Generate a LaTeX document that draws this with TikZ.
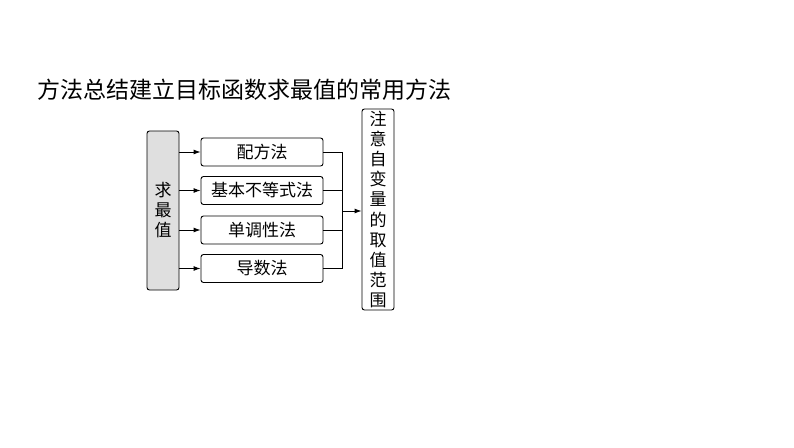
\documentclass[tikz,border=0pt]{standalone}
\usepackage{fontspec}
\newfontfamily\cjk{Noto Sans CJK SC}
\usetikzlibrary{arrows.meta}
\begin{document}
\begin{tikzpicture}[x=1pt,y=-1pt,
  box/.style={draw,rounded corners=2.5pt,line width=0.9pt,inner sep=0pt,font=\cjk\fontsize{17}{19}\selectfont},
  arr/.style={-{Latex[length=7pt,width=5pt]},line width=0.9pt},
  ln/.style={line width=0.9pt}]
\useasboundingbox (0,0) rectangle (794,447);
\node[anchor=west,font=\cjk\fontsize{23}{26}\selectfont] (t) at (34,90) {方法总结建立目标函数求最值的常用方法};
\node[box,fill=gray!25,minimum width=32pt,minimum height=159pt,align=center,font=\cjk\fontsize{17}{20}\selectfont] (L) at (163,210.5) {求\\最\\值};
\node[box,minimum width=122pt,minimum height=28pt] (a) at (262,152) {配方法};
\node[box,minimum width=122pt,minimum height=28pt] (b) at (262,190.5) {基本不等式法};
\node[box,minimum width=122pt,minimum height=28pt] (c) at (262,230) {单调性法};
\node[box,minimum width=122pt,minimum height=28pt] (d) at (262,268.5) {导数法};
\node[box,minimum width=32pt,minimum height=201pt,align=center,font=\cjk\fontsize{17}{20.2}\selectfont] (R) at (378,209.5) {注\\意\\自\\变\\量\\的\\取\\值\\范\\围};
\foreach \n in {a,b,c,d}{
  \draw[arr] (L.east|-\n.west) -- (\n.west);
  \draw[ln] (\n.east) -- (342,0|-\n.east);
}
\coordinate (top) at (342,152);
\coordinate (bot) at (342,268.5);
\coordinate (mid) at (342,211);
\draw[ln] (top) -- (bot);
\draw[arr] (mid) -- (R.west|-mid);
\end{tikzpicture}
\end{document}
